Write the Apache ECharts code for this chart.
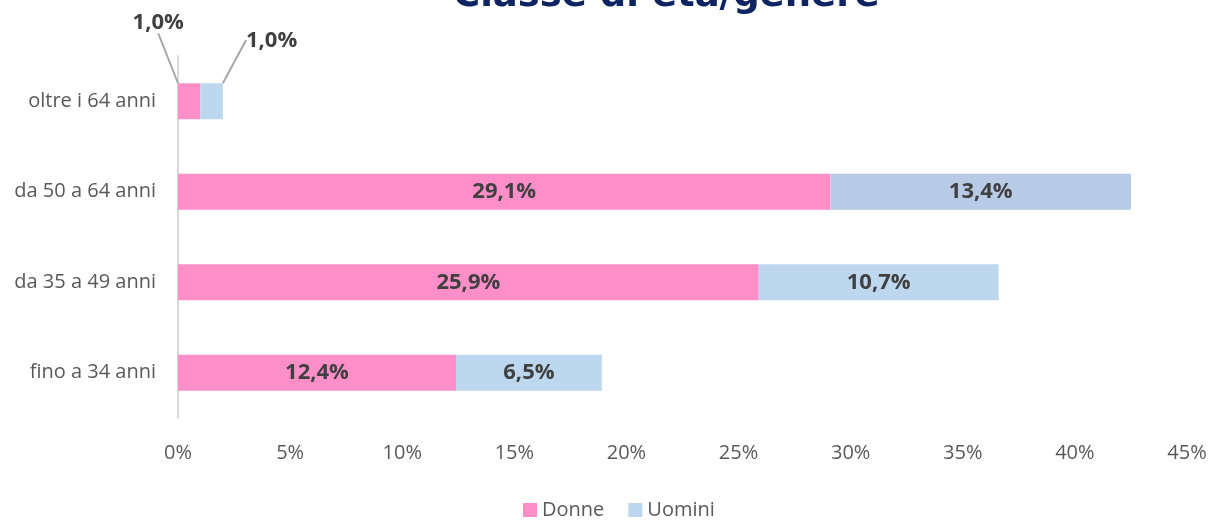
<!DOCTYPE html>
<html>
<head>
<meta charset="utf-8">
<script src="https://cdn.jsdelivr.net/npm/echarts@6/dist/echarts.min.js"></script>
<style>
  html, body { margin: 0; padding: 0; background: #fff; }
  #container { width: 1211px; height: 525px; }
</style>
</head>
<body>
<div id="container"></div>
<script>
// categorie (dal basso verso l'alto)
let categories = ['fino a 34 anni', 'da 35 a 49 anni', 'da 50 a 64 anni', 'oltre i 64 anni'];
let donne = [12.4, 25.9, 29.1, 1.0];
let uomini = [6.5, 10.7, 13.4, 1.0];
let seriesNames = ['Donne', 'Uomini'];

let fmt = function (p) {
  return p.value.toFixed(1).replace('.', ',') + '%';
};

let labelStyle = {
  show: true,
  position: 'inside',
  color: '#404040',
  fontFamily: 'Open Sans',
  fontWeight: 'bold',
  fontSize: 22,
  formatter: fmt
};

let option = {
  animation: false,
  title: {
    text: 'Classe di età/genere',
    left: 448,
    top: -27,
    textStyle: {
      color: '#0d2463',
      fontFamily: 'DejaVu Sans',
      fontWeight: 'bold',
      fontSize: 37
    }
  },
  legend: {
    data: seriesNames,
    bottom: 0,
    left: 518,
    itemWidth: 14,
    itemHeight: 14,
    itemGap: 24,
    icon: 'rect',
    textStyle: { color: '#595959', fontFamily: 'Open Sans', fontSize: 20 }
  },
  grid: { left: 178, right: 24, top: 56, bottom: 107, containLabel: false },
  xAxis: {
    type: 'value',
    min: 0,
    max: 45,
    interval: 5,
    axisLine: { show: false },
    axisTick: { show: false },
    splitLine: { show: false },
    axisLabel: {
      color: '#595959',
      fontFamily: 'Open Sans',
      fontSize: 20,
      margin: 25,
      formatter: '{value}%'
    }
  },
  yAxis: {
    type: 'category',
    data: categories,
    axisLine: { show: true, lineStyle: { color: '#d9d9d9', width: 2 } },
    axisTick: { show: false },
    axisLabel: {
      color: '#595959',
      fontFamily: 'Open Sans',
      fontSize: 20,
      margin: 22
    }
  },
  series: [
    {
      name: 'Donne',
      type: 'bar',
      stack: 'tot',
      barWidth: 36,
      itemStyle: {
        color: '#ff8fc8',
        decal: { symbol: 'circle', symbolSize: 0.3, dashArrayX: [4, 0], dashArrayY: [3, 1], color: 'rgba(230,90,170,0.35)' }
      },
      label: labelStyle,
      labelLine: { show: true, lineStyle: { color: '#a6a6a6', width: 2 } },
      labelLayout: function (p) {
        if (p.dataIndex === 3) return { dx: -31, dy: -79 };
        return {};
      },
      data: donne
    },
    {
      name: 'Uomini',
      type: 'bar',
      stack: 'tot',
      barWidth: 36,
      itemStyle: { color: '#bdd7ee' },
      label: labelStyle,
      labelLine: { show: true, lineStyle: { color: '#a6a6a6', width: 2 } },
      labelLayout: function (p) {
        if (p.dataIndex === 3) return { dx: 60, dy: -61 };
        return {};
      },
      data: uomini.map(function (v, i) {
        return i === 2 ? { value: v, itemStyle: { color: '#b8cbe6' } } : v;
      })
    }
  ]
};

let myChart = echarts.init(document.getElementById('container'));
myChart.setOption(option);
</script>
</body>
</html>
